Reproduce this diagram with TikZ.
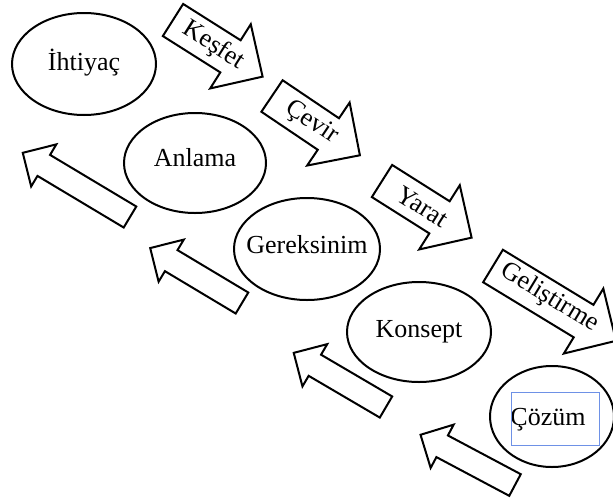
\documentclass[tikz,border=0pt]{standalone}
\usepackage{fontspec}
\setmainfont{Liberation Serif}
\usetikzlibrary{shapes.geometric}
\definecolor{selblue}{RGB}{110,145,230}
\begin{document}
\begin{tikzpicture}[x=0.75pt,y=-0.75pt,
  shape line/.style={draw=black, line width=1.5pt, line join=miter, fill=white},
  bubble/.style={ellipse, draw=black, line width=1.5pt, inner sep=0pt},
  label text/.style={font=\fontsize{19.5}{22}\selectfont, inner sep=0pt},
]
\useasboundingbox (0,0) rectangle (613,500);

% ellipses
\node[bubble, minimum width=108pt, minimum height=76.5pt] (ihtiyac) at (84,64) {};
\node[bubble, minimum width=106.5pt, minimum height=75pt] (anlama) at (195,163) {};
\node[bubble, minimum width=109.5pt, minimum height=76.5pt] (gereksinim) at (307,249) {};
\node[bubble, minimum width=108pt, minimum height=75pt] (konsept) at (419,332) {};
\node[bubble, minimum width=93pt, minimum height=75.75pt] (cozum) at (552,416.5) {};

\node[label text, anchor=base] (tihtiyac) at (84,70) {İhtiyaç};
\node[label text, anchor=base] (tanlama) at (195,166) {Anlama};
\node[label text, anchor=base] (tgereksinim) at (307,253) {Gereksinim};
\node[label text, anchor=base] (tkonsept) at (419,337) {Konsept};
\node[label text, anchor=base] (tcozum) at (548,425) {Çözüm};
\node[draw=selblue, line width=0.75pt, minimum width=66pt, minimum height=39.75pt, inner sep=0pt] (selbox) at (555,418.5) {};

% right-pointing arrows with text
\begin{scope}[shift={(173,20)}, rotate=-32.3]
  \draw[shape line] (0,-19) -- (68,-19) -- (68,-38) -- (106,0) -- (68,38) -- (68,19) -- (0,19) -- cycle;
  \node[label text, transform shape] (kesfet) at (48,0) {Keşfet};
\end{scope}
\begin{scope}[shift={(272,96)}, rotate=-34]
  \draw[shape line] (0,-19) -- (68,-19) -- (68,-38) -- (106,0) -- (68,38) -- (68,19) -- (0,19) -- cycle;
  \node[label text, transform shape] (cevir) at (48,0) {Çevir};
\end{scope}
\begin{scope}[shift={(382,181)}, rotate=-32.3]
  \draw[shape line] (0,-19) -- (68,-19) -- (68,-38) -- (106,0) -- (68,38) -- (68,19) -- (0,19) -- cycle;
  \node[label text, transform shape] (yarat) at (48,0) {Yarat};
\end{scope}
\begin{scope}[shift={(493,266)}, rotate=-31.3]
  \draw[shape line] (0,-19) -- (106,-19) -- (106,-38) -- (144,0) -- (106,38) -- (106,19) -- (0,19) -- cycle;
  \node[label text, transform shape] (gelistirme) at (65,-2) {Geliştirme};
\end{scope}

% left-pointing arrows
\begin{scope}[shift={(130,217)}, rotate=149.1]
  \draw[shape line] (0,-12.25) -- (100.5,-12.25) -- (100.5,-24.5) -- (125,0) -- (100.5,24.5) -- (100.5,12.25) -- (0,12.25) -- cycle;
\end{scope}
\begin{scope}[shift={(242,303)}, rotate=149.1]
  \draw[shape line] (0,-12.25) -- (82.5,-12.25) -- (82.5,-24.5) -- (107,0) -- (82.5,24.5) -- (82.5,12.25) -- (0,12.25) -- cycle;
\end{scope}
\begin{scope}[shift={(386,407)}, rotate=149.6]
  \draw[shape line] (0,-12.25) -- (82.5,-12.25) -- (82.5,-24.5) -- (107,0) -- (82.5,24.5) -- (82.5,12.25) -- (0,12.25) -- cycle;
\end{scope}
\begin{scope}[shift={(515,485)}, rotate=152]
  \draw[shape line] (0,-12.25) -- (82.5,-12.25) -- (82.5,-24.5) -- (107,0) -- (82.5,24.5) -- (82.5,12.25) -- (0,12.25) -- cycle;
\end{scope}
\end{tikzpicture}
\end{document}
